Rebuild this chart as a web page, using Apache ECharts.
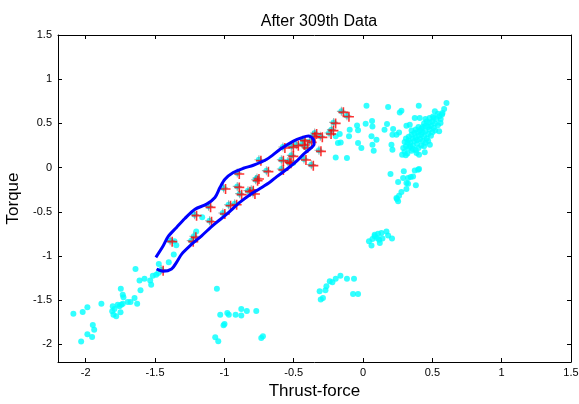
<!DOCTYPE html>
<html>
<head>
<meta charset="utf-8">
<script src="https://cdn.jsdelivr.net/npm/echarts@6/dist/echarts.min.js"></script>
<style>html,body{margin:0;padding:0;background:#fff;}#c{width:579px;height:404px;}</style>
</head>
<body>
<div id="c"></div>
<script>
const xTicks = [-2, -1.5, -1, -0.5, 0, 0.5, 1, 1.5];
const yTicks = [1.5, 1, 0.5, 0, -0.5, -1, -1.5, -2];

const cyanLowerLeft = [[-2.089,-1.653],[-2.022,-1.633],[-1.988,-1.581],[-1.887,-1.540],[-1.949,-1.781],[-1.939,-1.834],[-1.988,-1.887],[-1.954,-1.916],[-2.033,-1.969],[-1.747,-1.370],[-1.733,-1.438],[-1.728,-1.468],[-1.805,-1.570],[-1.793,-1.600],[-1.809,-1.627],[-1.800,-1.664],[-1.780,-1.683],[-1.757,-1.570],[-1.744,-1.551],[-1.733,-1.540],[-1.697,-1.520],[-1.677,-1.520],[-1.648,-1.475],[-1.629,-1.540],[-1.605,-1.389],[-1.612,-1.279],[-1.576,-1.257],[-1.535,-1.279],[-1.528,-1.325],[-1.516,-1.223],[-1.492,-1.212],[-1.477,-1.192],[-1.749,-1.638],[-1.769,-1.551],[-1.641,-1.147],[-1.473,-1.090],[-1.401,-1.072],[-1.365,-0.985],[-1.347,-0.880],[-1.360,-0.835],[-1.203,-0.722],[-1.160,-0.563]];
const cyanBottomMid = [[-1.054,-1.370],[-1.030,-1.664],[-0.979,-1.645],[-0.968,-1.664],[-0.919,-1.664],[-0.878,-1.600],[-0.878,-1.675],[-0.838,-1.622],[-0.770,-1.622],[-0.999,-1.769],[-1.006,-1.785],[-1.066,-1.921],[-1.044,-1.966],[-0.734,-1.928],[-0.722,-1.910]];
const cyanBottomRight = [[-0.313,-1.400],[-0.305,-1.494],[-0.289,-1.475],[-0.271,-1.389],[-0.264,-1.344],[-0.240,-1.287],[-0.221,-1.299],[-0.197,-1.257],[-0.163,-1.223],[-0.116,-1.257],[-0.065,-1.257],[-0.072,-1.430],[-0.036,-1.430]];
const cyanMidRight = [[0.084,-0.759],[0.108,-0.748],[0.133,-0.740],[0.169,-0.722],[0.068,-0.808],[0.101,-0.796],[0.116,-0.816],[0.140,-0.804],[0.181,-0.770],[0.043,-0.835],[0.061,-0.883],[0.121,-0.853],[0.209,-0.804],[0.084,-0.778]];
const cyanRightTail = [[0.198,-0.072],[0.294,-0.043],[0.325,-0.118],[0.344,-0.106],[0.361,-0.100],[0.397,-0.024],[0.373,-0.032],[0.253,-0.163],[0.313,-0.174],[0.325,-0.182],[0.381,-0.201],[0.313,-0.242],[0.277,-0.276],[0.260,-0.318],[0.245,-0.355],[0.253,-0.382],[0.241,-0.344],[0.289,-0.118],[0.404,-0.016]];
const cyanUpper = [[0.025,0.700],[0.181,0.686],[0.265,0.624],[0.277,0.644],[0.402,0.700],[0.602,0.731],[-0.043,0.477],[0.019,0.497],[0.065,0.527],[0.068,0.466],[-0.036,0.421],[0.173,0.493],[0.155,0.429],[0.217,0.437],[0.241,0.372],[0.212,0.372],[0.260,0.398],[0.061,0.353],[0.097,0.316],[-0.036,0.278],[-0.012,0.222],[0.068,0.259],[0.077,0.191],[0.205,0.259],[0.212,0.202],[0.282,0.146],[0.308,0.138],[0.386,0.165],[0.404,0.146],[0.445,0.172],[0.482,0.259],[0.549,0.410],[0.559,0.505],[0.573,0.618],[0.585,0.663],[0.518,0.636],[0.505,0.579],[0.373,0.561],[0.409,0.561],[0.313,0.474],[0.337,0.485],[-0.197,0.353],[-0.168,0.380],[-0.181,0.278],[-0.161,0.285],[-0.096,0.429],[-0.101,0.353],[-0.197,0.115],[-0.116,0.109],[-0.505,0.052]];
const cyanDense = [[0.30,0.18],[0.32,0.16],[0.33,0.22],[0.35,0.19],[0.36,0.25],[0.34,0.28],[0.31,0.24],[0.29,0.22],[0.37,0.30],[0.39,0.27],[0.40,0.22],[0.38,0.20],[0.42,0.25],[0.41,0.32],[0.43,0.30],[0.44,0.35],[0.40,0.36],[0.38,0.34],[0.36,0.33],[0.35,0.37],[0.33,0.31],[0.45,0.28],[0.46,0.33],[0.47,0.38],[0.45,0.41],[0.43,0.40],[0.42,0.44],[0.39,0.40],[0.37,0.39],[0.48,0.43],[0.49,0.47],[0.47,0.46],[0.45,0.47],[0.44,0.50],[0.50,0.40],[0.51,0.45],[0.52,0.50],[0.50,0.52],[0.48,0.51],[0.53,0.55],[0.51,0.56],[0.54,0.48],[0.55,0.58],[0.56,0.55],[0.57,0.60],[0.54,0.61],[0.46,0.52],[0.43,0.46],[0.41,0.42],[0.34,0.24],[0.32,0.28],[0.39,0.31],[0.44,0.24],[0.49,0.36],[0.36,0.21],[0.30,0.29],[0.33,0.35],[0.47,0.30],[0.52,0.42],[0.42,0.37],[0.40,0.46],[0.38,0.43],[0.45,0.55],[0.48,0.56],[0.35,0.42],[0.31,0.33]];
const selectedPoints = [[-1.456,-1.155],[-1.391,-0.827],[-1.239,-0.827],[-1.220,-0.778],[-1.215,-0.533],[-1.107,-0.601],[-1.114,-0.439],[-1.006,-0.231],[-1.011,-0.514],[-0.970,-0.420],[-0.926,-0.409],[-0.907,-0.061],[-0.907,-0.213],[-0.890,-0.295],[-0.830,-0.261],[-0.806,-0.250],[-0.794,-0.287],[-0.775,-0.137],[-0.765,-0.118],[-0.751,0.089],[-0.697,-0.035],[-0.589,-0.016],[-0.589,0.089],[-0.578,0.233],[-0.542,0.070],[-0.517,0.240],[-0.517,0.138],[-0.534,0.059],[-0.481,0.259],[-0.433,0.316],[-0.414,0.233],[-0.426,0.097],[-0.373,0.033],[-0.361,0.361],[-0.349,0.392],[-0.318,0.195],[-0.308,0.353],[-0.245,0.391],[-0.228,0.429],[-0.212,0.511],[-0.156,0.636],[-0.116,0.587],[-0.385,0.296],[-0.438,0.266]];
const boundary = [[-1.494,-1.016],[-1.441,-0.885],[-1.405,-0.779],[-1.345,-0.677],[-1.285,-0.576],[-1.212,-0.471],[-1.128,-0.414],[-1.068,-0.339],[-1.032,-0.226],[-0.996,-0.132],[-0.936,-0.056],[-0.863,-0.008],[-0.791,0.026],[-0.694,0.094],[-0.598,0.207],[-0.502,0.300],[-0.441,0.339],[-0.394,0.357],[-0.358,0.319],[-0.353,0.263],[-0.381,0.214],[-0.430,0.150],[-0.477,0.075],[-0.550,-0.019],[-0.622,-0.102],[-0.670,-0.163],[-0.743,-0.237],[-0.815,-0.307],[-0.887,-0.392],[-0.983,-0.527],[-1.080,-0.651],[-1.164,-0.772],[-1.248,-0.885],[-1.308,-0.979],[-1.345,-1.072],[-1.381,-1.148],[-1.441,-1.174],[-1.489,-1.148]];

const allCyan = [].concat(cyanLowerLeft, cyanBottomMid, cyanBottomRight, cyanMidRight, cyanRightTail, cyanUpper, cyanDense, selectedPoints);
const grayPlus = 'path://M0,4.4H10V5.6H0Z M4.4,0H5.6V10H4.4Z';
const redPlus = 'path://M0,4.2H10V5.8H0Z M4.2,0H5.8V10H4.2Z';
const font = 'Liberation Sans, Arial, sans-serif';

const chart = echarts.init(document.getElementById('c'), null, {renderer: 'canvas'});
const axisCommon = {
  type: 'value',
  axisLine: {show: true, onZero: false, lineStyle: {color: '#000', width: 1}},
  axisTick: {show: true, inside: true, length: 4, lineStyle: {color: '#000'}},
  splitLine: {show: false}
};
chart.setOption({
  animation: false,
  backgroundColor: '#fff',
  title: {
    text: 'After 309th Data', left: 314, top: 9, textAlign: 'center',
    textStyle: {fontFamily: font, fontSize: 16, fontWeight: 'normal', color: '#000'}
  },
  grid: {left: 58, right: 8, top: 35, bottom: 42, containLabel: false, outerBoundsMode: 'none'},
  xAxis: [
    Object.assign({}, axisCommon, {
      position: 'bottom', min: -2.2, max: 1.5,
      name: 'Thrust-force', nameLocation: 'middle', nameGap: 20,
      nameTextStyle: {fontFamily: font, fontSize: 17, color: '#000'},
      axisTick: Object.assign({}, axisCommon.axisTick, {customValues: xTicks}),
      axisLabel: {customValues: xTicks, fontFamily: font, fontSize: 11, color: '#000', margin: 5}
    }),
    Object.assign({}, axisCommon, {
      position: 'top', min: -2.2, max: 1.5,
      axisTick: Object.assign({}, axisCommon.axisTick, {customValues: xTicks}),
      axisLabel: {show: false}
    })
  ],
  yAxis: [
    Object.assign({}, axisCommon, {
      position: 'left', min: -2.2, max: 1.5,
      name: 'Torque', nameLocation: 'middle', nameGap: 32, nameRotate: 90,
      nameTextStyle: {fontFamily: font, fontSize: 17, color: '#000'},
      axisTick: Object.assign({}, axisCommon.axisTick, {customValues: yTicks}),
      axisLabel: {customValues: yTicks, fontFamily: font, fontSize: 11, color: '#000', margin: 6}
    }),
    Object.assign({}, axisCommon, {
      position: 'right', min: -2.2, max: 1.5,
      axisTick: Object.assign({}, axisCommon.axisTick, {customValues: yTicks}),
      axisLabel: {show: false}
    })
  ],
  series: [
    {type: 'scatter', data: allCyan, symbol: 'circle', symbolSize: 6,
     itemStyle: {color: '#00ffff'}, silent: true},
    {type: 'line', data: boundary, showSymbol: false, smooth: 0.3,
     lineStyle: {color: '#0000ff', width: 3}, silent: true},
    {type: 'scatter', data: selectedPoints, symbol: grayPlus, symbolSize: 9,
     itemStyle: {color: 'rgba(90,120,120,0.7)'}, silent: true},
    {type: 'scatter', data: selectedPoints, symbol: redPlus, symbolSize: 10, symbolOffset: [2, 1],
     itemStyle: {color: '#ff0000'}, silent: true}
  ]
});
</script>
</body>
</html>
